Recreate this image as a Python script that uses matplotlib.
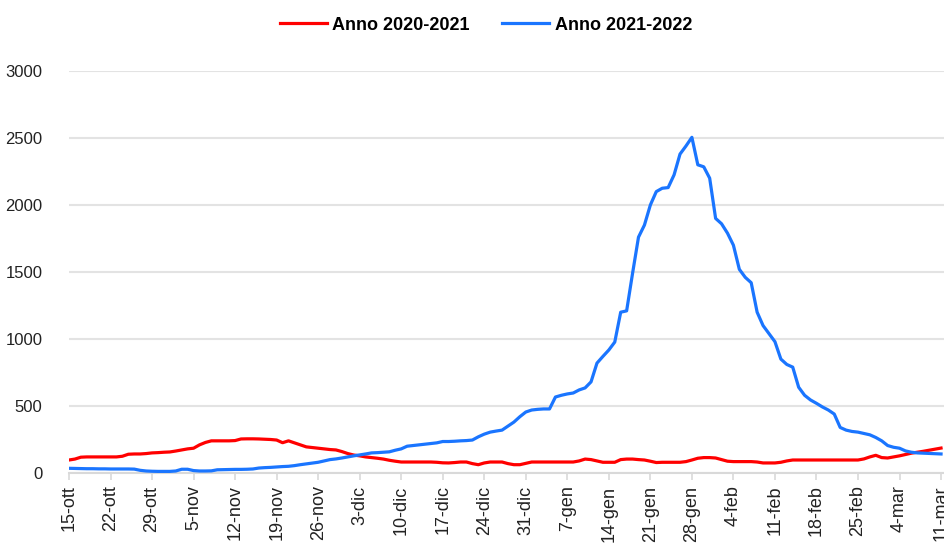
import matplotlib
matplotlib.use("Agg")
import matplotlib.pyplot as plt
from matplotlib.ticker import FixedLocator
import numpy as np

# ==============================================================================
# DATI (lettura dal grafico, un valore per giorno a partire dal 15-ott)
# ==============================================================================
tick_labels = ["15-ott", "22-ott", "29-ott", "5-nov", "12-nov", "19-nov", "26-nov",
               "3-dic", "10-dic", "17-dic", "24-dic", "31-dic", "7-gen", "14-gen",
               "21-gen", "28-gen", "4-feb", "11-feb", "18-feb", "25-feb", "4-mar",
               "11-mar"]

anno_2020_2021 = [
    97, 104, 118, 120, 120, 120, 120, 120, 120, 125,
    140, 142, 142, 145, 150, 152, 155, 157, 164, 172,
    180, 185, 210, 228, 240, 240, 240, 240, 242, 254,
    255, 255, 254, 252, 250, 246, 226, 240, 225, 210,
    195, 190, 185, 180, 175, 172, 160, 145, 134, 128,
    120, 115, 110, 104, 95, 88, 82, 82, 82, 82,
    82, 82, 80, 76, 75, 78, 82, 82, 70, 62,
    75, 82, 82, 82, 70, 62, 62, 72, 82, 82,
    82, 82, 82, 82, 82, 82, 90, 104, 100, 90,
    80, 80, 80, 100, 104, 104, 100, 97, 88, 78,
    80, 80, 80, 80, 85, 97, 110, 115, 115, 112,
    100, 88, 85, 85, 85, 85, 82, 75, 75, 75,
    80, 90, 97, 97, 97, 97, 97, 97, 97, 97,
    97, 97, 97, 97, 105, 120, 132, 115, 112, 120,
    128, 138, 148, 155, 162, 170, 178, 186,
]

anno_2021_2022 = [
    35, 34, 33, 32, 32, 31, 31, 30, 30, 30,
    30, 29, 20, 15, 13, 12, 12, 12, 15, 28,
    28, 18, 15, 15, 16, 24, 25, 26, 27, 27,
    28, 30, 37, 40, 42, 45, 48, 50, 55, 62,
    68, 74, 80, 90, 100, 105, 112, 120, 128, 135,
    142, 150, 152, 155, 158, 170, 180, 200, 205, 210,
    215, 220, 225, 235, 235, 237, 240, 242, 246, 270,
    290, 305, 313, 320, 350, 380, 420, 455, 470, 475,
    478, 478, 567, 580, 590, 597, 620, 635, 680, 820,
    870, 918, 977, 1200, 1210, 1490, 1760, 1850, 2000, 2100,
    2125, 2130, 2225, 2380, 2440, 2505, 2300, 2285, 2200, 1900,
    1860, 1790, 1700, 1520, 1460, 1420, 1200, 1100, 1040, 980,
    850, 810, 790, 640, 580, 545, 520, 493, 470, 440,
    340, 320, 310, 305, 295, 285, 265, 240, 205, 192,
    185, 165, 155, 150, 148, 146, 144, 142,
]

# ==============================================================================
# GRAFICO
# ==============================================================================
plt.rcParams['font.family'] = ['Liberation Sans Narrow', 'Liberation Sans', 'DejaVu Sans']

fig = plt.figure(figsize=(9.44, 5.46), dpi=100)
ax = fig.add_axes([69 / 944, 73 / 546, 1 - 69 / 944, (473 - 71) / 546])

giorni = np.arange(len(anno_2020_2021))
ax.plot(giorni, anno_2020_2021, color='#FF0000', linewidth=2.3, label='Anno 2020-2021',
        solid_joinstyle='round', zorder=3)
ax.plot(np.arange(len(anno_2021_2022)), anno_2021_2022, color='#1A75FF', linewidth=2.3,
        label='Anno 2021-2022', solid_joinstyle='round', zorder=4)

ax.set_xlim(0, 147.5)
ax.set_ylim(0, 3000)
ax.set_yticks(np.arange(0, 3001, 500))
ax.xaxis.set_major_locator(FixedLocator(np.arange(len(tick_labels)) * 7))
ax.set_xticklabels(tick_labels, rotation=90, fontsize=13, color='#222222')
ax.tick_params(axis='y', length=0, pad=19, labelsize=12, labelcolor='#222222')
ax.tick_params(axis='x', length=5, width=1.2, color='#D9D9D9', pad=4)

ax.grid(axis='y', color='#E3E3E3', linewidth=1.5)
ax.set_axisbelow(True)
for lato in ['top', 'right', 'left']:
    ax.spines[lato].set_visible(False)
ax.spines['bottom'].set_color('#D9D9D9')
ax.spines['bottom'].set_linewidth(1.5)

leg = fig.legend(loc='center', bbox_to_anchor=(486 / 944, 1 - 25 / 546), ncol=2,
                 frameon=False, handlelength=2.6, handletextpad=0.3, columnspacing=1.8,
                 prop={'weight': 'bold', 'size': 13})

fig.savefig('out.png', dpi=100)
